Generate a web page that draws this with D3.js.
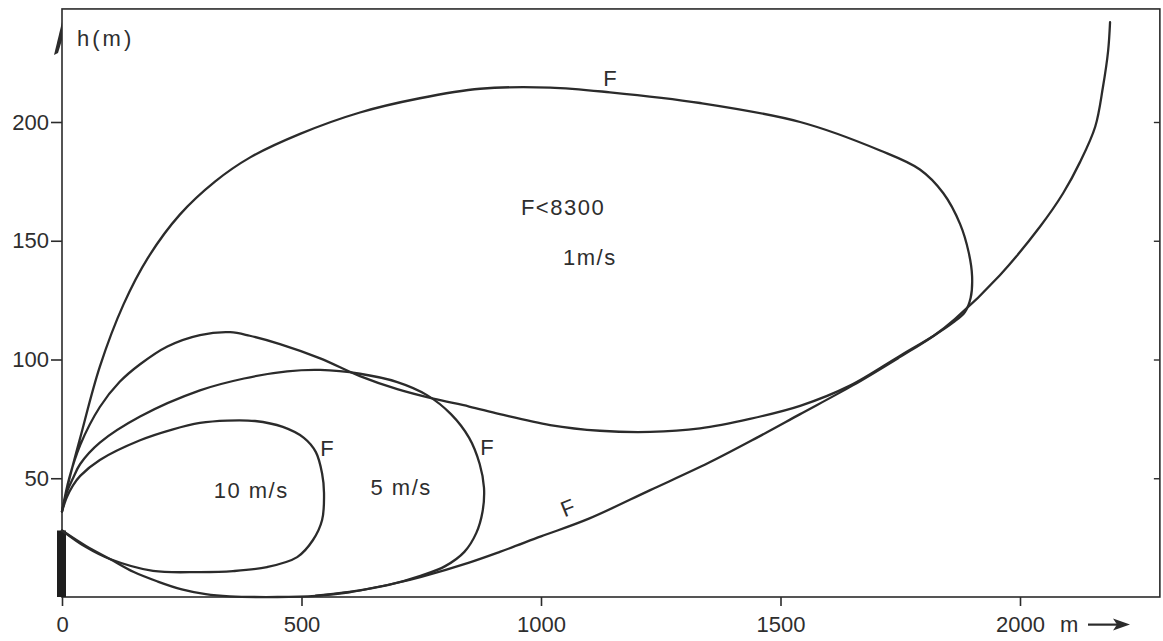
<!DOCTYPE html>
<html>
<head>
<meta charset="utf-8">
<script src="https://cdn.jsdelivr.net/npm/d3@7"></script>
<style>
  html, body { margin: 0; padding: 0; background: #fff; }
  svg { display: block; }
  text { font-family: "Liberation Sans", Arial, sans-serif; fill: #2e2e2e; }
</style>
</head>
<body>
<svg id="chart" width="1163" height="641"></svg>
<script>
// ---------- data (x = distance m, h = height m) ----------
const xTicks = [0, 500, 1000, 1500, 2000];
const yTicks = [50, 100, 150, 200];
const xLimit = [0, 2292];
const hLimit = [0, 247.6];
const stackHeight = [28];

// 1 m/s closed loop: top branch, right side, lower branch, hump, back to origin
const loop1 = [
  [0,36],[12,47],[38,67],[79,97],[128,123],[180,143],[246,161],[320,175],[392,185],
  [497,195],[622,204],[747,210],[873,214],[1019,214.5],[1144,212.5],[1332,208],
  [1541,200],[1708,188],[1791,180],[1840,170],[1875,157],[1893,145],[1900,135],
  [1897,126],[1885,120],[1860,115.5],[1820,110],[1749,101.5],[1645,89],[1541,80.5],
  [1436,75],[1332,71],[1228,69.5],[1123,70],[1019,72.4],[914,77],[850,80.2],
  [775,83.5],[700,87.5],[622,93],[539,100.5],[455,106.5],[392,110],[351,111.5],
  [288,110.3],[220,105.5],[163,98],[120,90.5],[79,80],[38,64],[15,50],[0,36]
];
// 5 m/s loop
const loop5 = [
  [0,36],[10,44],[23,50],[38,56],[79,65],[163,76],[288,87],[380,92],[470,95],
  [539,95.6],[622,94],[700,90.5],[762,85],[812,77],[850,67],[872,56],[881,46],
  [878,36],[865,27],[840,19],[800,13],[750,9],[680,5],[600,2.2],[530,0.6]
];
// 10 m/s loop
const loop10 = [
  [0,36],[10,42],[23,47],[38,51],[79,57.7],[163,66],[230,70.5],[288,73.3],[345,74.3],
  [403,74.1],[461,71.6],[505,67],[530,61],[543,52],[547,43.8],[543,32.4],[524,24],
  [491,16.8],[428,12.6],[357,10.9],[288,10.5],[190,11],[100,16],[50,21],[0,28]
];
// envelope curve F
const envelope = [
  [0,28],[50,21.5],[100,16],[150,10.5],[200,6.5],[250,3.2],[300,1.2],[350,0.3],
  [450,0],[530,0.5],[600,2],[700,6],[750,8.5],[850,14.5],[914,19],[1000,25.5],[1100,33],
  [1228,45],[1350,56.5],[1450,67],[1541,77],[1650,89],[1749,101],[1820,110],[1864,117],
  [1958,135.5],[2042,156],[2090,170],[2125,183],[2157,198],[2173,214.5],[2184,230],[2188,242]
];

// annotations: [x m, h m, text, rotation]
const labels = [
  [1046, 164, "F<8300", 0],
  [1102, 143, "1m/s", 0],
  [395, 45, "10 m/s", 0],
  [708, 46, "5 m/s", 0],
  [553, 62.5, "F", 0],
  [887, 63, "F", 0],
  [1056, 37.5, "F", -22],
  [1144, 218.5, "F", 0]
];

// ---------- drawing ----------
const svg = d3.select("#chart");
const xs = d3.scaleLinear().domain([0, 2000]).range([62, 1020]);
const ys = d3.scaleLinear().domain([0, 200]).range([597, 122]);
const ink = "#2b2b2b";
const fs = 22;

// frame
svg.append("rect")
  .attr("x", xs(xLimit[0])).attr("y", ys(hLimit[1]))
  .attr("width", xs(xLimit[1]) - xs(xLimit[0]))
  .attr("height", ys(hLimit[0]) - ys(hLimit[1]))
  .attr("fill", "none").attr("stroke", ink).attr("stroke-width", 1.6);

// bottom axis
const xAxis = d3.axisBottom(xs).tickValues(xTicks).tickSize(9).tickPadding(10)
  .tickFormat(d3.format("d"));
const gx = svg.append("g").attr("transform", `translate(0,${ys(0)})`).call(xAxis);
gx.select(".domain").remove();
gx.selectAll("line").attr("stroke", ink).attr("stroke-width", 1.6);
gx.selectAll("text").attr("font-size", fs).style("fill", "#2e2e2e");

// left axis
const yAxis = d3.axisLeft(ys).tickValues(yTicks).tickSize(11).tickPadding(2);
const gy = svg.append("g").attr("transform", `translate(${xs(0)},0)`).call(yAxis);
gy.select(".domain").remove();
gy.selectAll("line").attr("stroke", ink).attr("stroke-width", 1.6);
gy.selectAll("text").attr("font-size", fs).style("fill", "#2e2e2e");

// right-side inward ticks
const gr = svg.append("g").attr("transform", `translate(${xs(xLimit[1])},0)`)
  .call(d3.axisLeft(ys).tickValues(yTicks).tickSize(6).tickFormat(""));
gr.select(".domain").remove();
gr.selectAll("line").attr("stroke", ink).attr("stroke-width", 1.4);

// axis titles
svg.append("text").attr("x", xs(0) + 15).attr("y", 46).attr("font-size", fs)
  .attr("letter-spacing", 3).text("h(m)");
const xLabelY = ys(0) + 9 + 10 + fs * 0.71;
svg.append("text").attr("x", xs(2000) + 40).attr("y", xLabelY).attr("font-size", fs).text("m");
const ax = xs(2000) + 68, ay = xLabelY - 7;
svg.append("path")
  .attr("d", `M${ax},${ay} L${ax + 30},${ay}`)
  .attr("stroke", ink).attr("stroke-width", 2.2);
svg.append("path")
  .attr("d", `M${ax + 42},${ay} L${ax + 25},${ay - 6} L${ax + 29},${ay} L${ax + 25},${ay + 6} Z`)
  .attr("fill", ink);
// arrow barb at top of the h axis
const tx = xs(0), tyTop = ys(hLimit[1]) + 13;
svg.append("path")
  .attr("d", `M${tx},${tyTop} L${tx - 8},${tyTop + 33} L${tx - 4},${tyTop + 31} L${tx},${tyTop + 18} Z`)
  .attr("fill", ink);

// stack
svg.append("rect")
  .attr("x", xs(0) - 5).attr("y", ys(stackHeight[0]))
  .attr("width", 9).attr("height", ys(0) - ys(stackHeight[0]))
  .attr("fill", "#1e1e1e");

// curves
const line = d3.line().x(d => xs(d[0])).y(d => ys(d[1])).curve(d3.curveCatmullRom.alpha(0.5));
[loop1, loop5, loop10, envelope].forEach(s => {
  svg.append("path").attr("d", line(s))
    .attr("fill", "none").attr("stroke", ink).attr("stroke-width", 2.3)
    .attr("stroke-linecap", "round").attr("stroke-linejoin", "round");
});

// annotations
labels.forEach(([lx, lh, t, r]) => {
  svg.append("text")
    .attr("transform", `translate(${xs(lx)},${ys(lh)}) rotate(${r})`)
    .attr("text-anchor", "middle").attr("dominant-baseline", "central")
    .attr("letter-spacing", t.length > 1 ? 1.5 : 0)
    .attr("font-size", fs).text(t);
});
</script>
</body>
</html>
